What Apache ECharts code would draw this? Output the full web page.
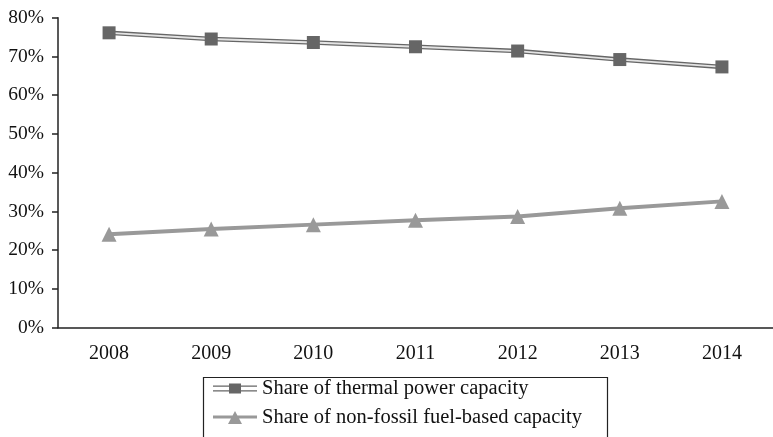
<!DOCTYPE html>
<html lang="en">
<head>
    <meta charset="UTF-8">
    <title>Capacity share</title>
    <script src="https://cdn.jsdelivr.net/npm/echarts@6/dist/echarts.min.js"></script>
    <style>
        html, body { margin: 0; padding: 0; background: #fff; }
        #main { width: 773px; height: 437px; }
    </style>
</head>
<body>
<div id="main"></div>
<script>
    // data
    var years = ['2008', '2009', '2010', '2011', '2012', '2013', '2014'];
    var thermal = [76.1, 74.5, 73.6, 72.5, 71.4, 69.2, 67.3];
    var nonFossil = [24.1, 25.5, 26.6, 27.7, 28.7, 30.8, 32.6];
    var yTicks = [0, 10, 20, 30, 40, 50, 60, 70, 80];

    var serif = '"Liberation Serif", "DejaVu Serif", serif';

    // legend icons: double line with a square, thick line with a triangle
    var iconThermal = 'path://M0,4L44,4L44,5.2L0,5.2Z M0,8.8L44,8.8L44,10L0,10Z M16,2L28,2L28,12L16,12Z';
    var iconNonFossil = 'path://M0,5.5L44,5.5L44,8.5L0,8.5Z M15,14L22,1L29,14Z';

    var chart = echarts.init(document.getElementById('main'));
    chart.setOption({
        animation: false,
        grid: { left: 58, right: -3, top: 17.7, bottom: 109.3 },
        // legend frame runs off the bottom of the picture
        graphic: [{
            type: 'rect',
            left: 201, top: 375,
            shape: { width: 404, height: 100 },
            style: { fill: 'none', stroke: '#222', lineWidth: 1.2 }
        }],
        xAxis: {
            type: 'category',
            data: years,
            boundaryGap: true,
            axisLine: { lineStyle: { color: '#222', width: 1.5 } },
            axisTick: { length: 6, lineStyle: { color: '#222', width: 1.5 } },
            axisLabel: { color: '#111', fontFamily: serif, fontSize: 20, margin: 16 }
        },
        yAxis: {
            type: 'value',
            min: yTicks[0],
            max: yTicks[yTicks.length - 1],
            interval: 10,
            splitLine: { show: false },
            axisLine: { show: true, lineStyle: { color: '#222', width: 1.5 } },
            axisTick: { show: true, length: 6, lineStyle: { color: '#222', width: 1.5 } },
            axisLabel: { color: '#111', fontFamily: serif, fontSize: 19.5, margin: 14, formatter: '{value}%' }
        },
        legend: {
            orient: 'vertical',
            left: 213,
            top: 378,
            padding: 0,
            itemWidth: 44,
            itemHeight: 14,
            itemGap: 8,
            textStyle: { color: '#111', fontFamily: serif, fontSize: 20.5 },
            data: [
                { name: 'Share of thermal power capacity', icon: iconThermal, itemStyle: { color: '#666' } },
                { name: 'Share of non-fossil fuel-based capacity', icon: iconNonFossil, itemStyle: { color: '#999' } }
            ]
        },
        series: [
            {
                name: 'thermal outer',
                type: 'line',
                data: thermal,
                symbol: 'none',
                z: 1,
                lineStyle: { color: '#666', width: 4.5 }
            },
            {
                name: 'Share of thermal power capacity',
                type: 'line',
                data: thermal,
                symbol: 'rect',
                symbolSize: 13,
                z: 2,
                itemStyle: { color: '#666' },
                lineStyle: { color: '#e4e4e4', width: 1.8 }
            },
            {
                name: 'Share of non-fossil fuel-based capacity',
                type: 'line',
                data: nonFossil,
                symbol: 'triangle',
                symbolSize: 15,
                z: 2,
                itemStyle: { color: '#999' },
                lineStyle: { color: '#999', width: 4 }
            }
        ]
    });
</script>
</body>
</html>
